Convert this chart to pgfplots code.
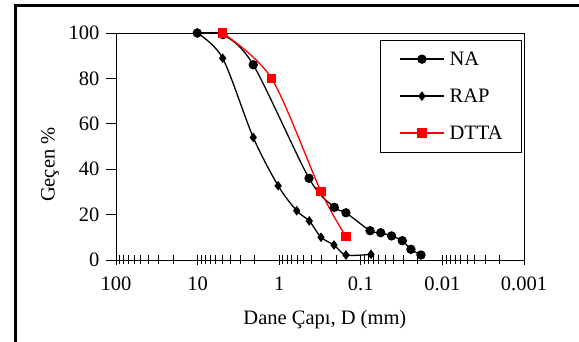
\documentclass[border=0pt]{standalone}
\usepackage{pgfplots}
\pgfplotsset{compat=1.18}
\usepackage{fontspec}
\setmainfont{Liberation Serif}
\pgfplotstableread{
D P
10.09 100
4.9 99.3
2.08 86
0.431 36
0.211 23.2
0.152 20.8
0.077 12.9
0.057 12.0
0.042 10.6
0.031 8.5
0.0243 4.7
0.0183 2.2
}\NA
\pgfplotstableread{
D P
10.09 100
4.93 88.9
2.08 54.0
1.03 32.7
0.61 21.7
0.428 17.2
0.307 10.0
0.213 6.6
0.152 2.2
0.075 2.5
}\RAP
\pgfplotstableread{
D P
4.93 100
1.24 80
0.307 30.1
0.152 10.3
}\DTTA
\begin{document}
\begin{tikzpicture}
\begin{axis}[
  at={(0pt,0pt)}, anchor=south west,
  scale only axis, width=408pt, height=227pt,
  xmode=log, x dir=reverse, xmin=0.001, xmax=100,
  ymin=0, ymax=100,
  xtick={0.001,0.01,0.1,1,10,100},
  xticklabels={0.001,0.01,0.1,1,10,100},
  minor xtick={0.002,0.003,0.004,0.005,0.006,0.007,0.008,0.009,
    0.02,0.03,0.04,0.05,0.06,0.07,0.08,0.09,
    0.2,0.3,0.4,0.5,0.6,0.7,0.8,0.9,
    2,3,4,5,6,7,8,9,20,30,40,50,60,70,80,90},
  ytick={0,20,...,100},
  xtick pos=bottom, ytick pos=left,
  xtick align=center, ytick align=outside,
  major tick length=10pt, minor tick length=9pt,
  font=\fontsize{20.5}{24}\selectfont,
  /pgf/number format/assume math mode=true,
  xticklabel style={anchor=center, yshift=-19pt},
  yticklabel style={anchor=east, xshift=-3pt},
  xlabel={Dane Çapı, D (mm)}, ylabel={Geçen \%},
  every axis x label/.style={at={(axis description cs:0.512,-0.264)}, anchor=center},
  every axis y label/.style={at={(axis description cs:-0.162,0.42)}, rotate=90, anchor=center},
  axis line style={line width=0.9pt},
  every tick/.style={black, line width=0.9pt},
  legend cell align=left,
  legend image code/.code={\draw[mark repeat=2,mark phase=2,#1] plot coordinates {(0pt,0pt) (22pt,0pt) (44pt,0pt)};},
  legend style={at={(rel axis cs:0.995,0.969)}, anchor=north east, draw=black, line width=0.7pt,
    inner xsep=19pt, inner ysep=12pt, row sep=23.5pt,
    nodes={inner sep=0pt, text height=13.5pt, text depth=0pt, line width=1.3pt},
    column sep=5pt},
]
\addplot[black, line width=1.3pt, smooth, mark=*, mark size=4pt, mark options={solid}] table[x=D,y=P]{\NA};
\addlegendentry{NA}
\addplot[black, line width=1.3pt, smooth, mark=diamond*, mark size=3.8pt, mark options={solid}] table[x=D,y=P]{\RAP};
\addlegendentry{RAP}
\addplot[red, line width=1.3pt, smooth, mark=square*, mark size=4pt, mark options={solid}] table[x=D,y=P]{\DTTA};
\addlegendentry{DTTA}
\end{axis}
\draw[line width=2.6pt] (-100.7pt,-100pt) -- (-100.7pt,254.3pt) -- (480pt,254.3pt);
\pgfresetboundingbox
\useasboundingbox (-116pt,-82pt) rectangle (463pt,260pt);
\end{tikzpicture}
\end{document}
